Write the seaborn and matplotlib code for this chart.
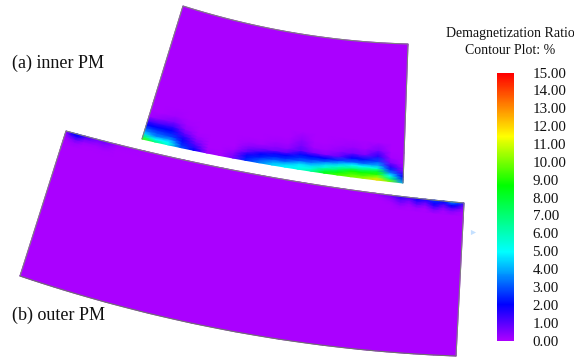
import numpy as np
import matplotlib
matplotlib.use("Agg")
import matplotlib.pyplot as plt
from matplotlib.colors import LinearSegmentedColormap
import seaborn as sns

# Scale
scale_ticks = [0, 1, 2, 3, 4, 5, 6, 7, 8, 9, 10, 11, 12, 13, 14, 15]
scale_stops = [0, 2, 3.5, 5, 8.7, 11.5, 15]
scale_colors = ["#aa00ff", "#0000ff", "#0082ff", "#00ffff", "#00ff00", "#ffff00", "#ff0000"]

# Inner PM: outline (pixels), then ratio table (rows = px above bottom edge)
inner_corners = dict(tl=(183, 6), tr=(408, 44), br=(403, 183), bl=(142, 139))
inner_sag = dict(top=8, bottom=4)
inner_stations = [0, .05, .1, .15, .2, .25, .3, .35, .4, .45, .5, .55, .6, .65, .7, .75, .8, .85, .9, .95, 1]
inner_depths = [0, 3, 6, 9, 12, 15, 19, 24, 30, 38]
inner_ratio = [
    [9.5, 7, 5.5, 3, 2, .2, 0, .6, 2.5, 3.5, 4.5, 5, 5.5, 6.5, 8.5, 9.5, 10, 10.5, 12, 10, 4],
    [7, 5, 5, 2.5, 1.5, .1, 0, .5, 2.2, 3, 4, 4.5, 5, 5.5, 7.5, 8.5, 9.5, 9.5, 10.5, 7, 3],
    [4.5, 3.5, 3.8, 2.2, 1, 0, 0, .3, 1.8, 2.3, 3, 3.2, 4.5, 4.5, 5.5, 7, 8.8, 8.8, 9, 5, 2],
    [3.5, 3, 2.8, 1.8, .6, 0, 0, .1, .9, 2, 2.3, 2.5, 3, 3.4, 4.5, 5.5, 6.5, 7, 8, 3.5, 1.5],
    [2.8, 2.5, 2.4, 1.3, .3, 0, 0, 0, .6, 1, 1.8, 2, 2.5, 2.6, 3, 4, 5, 5, 5.5, 2.5, .5],
    [2, 2, 2, .8, .1, 0, 0, 0, .3, .5, .6, .9, 2.1, 2, 2, 2.6, 3.2, 3.3, 4, 1.5, .2],
    [1.2, 1.2, 1.3, .3, 0, 0, 0, 0, .1, .1, .3, .3, .9, .5, .4, .8, 2, 2.2, 2.8, .5, 0],
    [.1, .3, .5, .1, 0, 0, 0, 0, 0, 0, .1, .1, .6, .1, .1, .3, .6, .5, 1.5, .1, 0],
    [0, 0, .1, 0, 0, 0, 0, 0, 0, 0, 0, 0, .3, 0, 0, .1, .2, .1, .5, 0, 0],
    [0, 0, 0, 0, 0, 0, 0, 0, 0, 0, 0, 0, 0, 0, 0, 0, 0, 0, 0, 0, 0],
]

# Outer PM: rows = px below top edge
outer_corners = dict(tl=(66, 131), tr=(464, 203), br=(456, 356), bl=(20, 276))
outer_sag = dict(top=9, bottom=16)
outer_stations = [0, .015, .03, .05, .08, .1, .13, .2, .3, .4, .5, .6, .7, .78, .8, .82, .844,
                  .865, .884, .905, .927, .95, .97, .985, 1]
outer_depths = [0, 2, 4, 7, 10, 14]
outer_ratio = [
    [.3, 1.8, 2.2, 1.2, .7, .7, .2, 0, 0, 0, 0, 0, 0, .1, .4, .7, 1.6, 1.2, 1.9, 1.6, 2.8, 2, 4, 3.2, 1.5],
    [.2, 1.5, 2, 1, .5, .6, .1, 0, 0, 0, 0, 0, 0, .05, .3, .5, 1.3, .9, 1.7, 1.3, 2.4, 1.7, 3, 2.5, 1],
    [.1, .9, 1.4, .6, .3, .4, .05, 0, 0, 0, 0, 0, 0, 0, .1, .3, .9, .5, 1.3, .8, 1.9, 1, 2, 1.6, .5],
    [0, .3, .6, .2, .1, .2, 0, 0, 0, 0, 0, 0, 0, 0, 0, .1, .5, .2, .7, .3, 1.2, .5, 1, .7, .2],
    [0, .1, .2, .05, 0, .05, 0, 0, 0, 0, 0, 0, 0, 0, 0, 0, .2, .05, .2, .05, .5, .1, .4, .2, 0],
    [0] * 25,
]

sns.set_theme(style="white")
plt.rcParams["font.family"] = ["Liberation Serif", "DejaVu Serif"]

W, H = 574, 358
fig = plt.figure(figsize=(W / 100, H / 100), dpi=100, facecolor="white")
ax = fig.add_axes([0, 0, 1, 1])
ax.set_xlim(0, W)
ax.set_ylim(H, 0)
ax.axis("off")

cmap = LinearSegmentedColormap.from_list(
    "demag", [(s / 15, c) for s, c in zip(scale_stops, scale_colors)], N=512
)


def bow(a, b, sag, s):
    """Quadratic curve from a to b that sags downwards (in the picture) by sag."""
    a, b = np.array(a, float), np.array(b, float)
    mid = (a + b) / 2
    d = b - a
    n = np.array([-d[1], d[0]]) / np.hypot(*d)
    ctrl = mid + 2 * sag * n
    s = np.asarray(s)[:, None]
    return (1 - s) ** 2 * a + 2 * s * (1 - s) * ctrl + s ** 2 * b


def draw_magnet(corners, sag, stations, depths, ratio, from_bottom, zorder, edge_bottom=True):
    top = bow(corners["tl"], corners["tr"], sag["top"], stations)
    bottom = bow(corners["bl"], corners["br"], sag["bottom"], stations)
    span = np.hypot(*(top - bottom).T)
    rows, vals = [], []
    ratio = np.array(ratio, float)
    for d, r in zip(depths, ratio):
        t = (d / span)[:, None]
        rows.append(bottom + (top - bottom) * t if from_bottom else top + (bottom - top) * t)
        vals.append(r)
    rows.append(top if from_bottom else bottom)
    vals.append(np.zeros_like(ratio[0]))
    grid = np.stack(rows)
    ax.pcolormesh(grid[..., 0], grid[..., 1], np.stack(vals), cmap=cmap, vmin=0, vmax=15,
                  shading="gouraud", zorder=zorder, rasterized=True)
    fine = np.linspace(0, 1, 80)
    top_f = bow(corners["tl"], corners["tr"], sag["top"], fine)
    bot_f = bow(corners["bl"], corners["br"], sag["bottom"], fine)
    line = np.vstack([bot_f[:1], top_f, bot_f[-1:]])
    ax.plot(line[:, 0], line[:, 1], color="#808080", lw=0.8, zorder=zorder + .1)
    if edge_bottom:
        ax.plot(bot_f[:, 0], bot_f[:, 1], color="#707070", lw=0.8, zorder=zorder + .1)


draw_magnet(inner_corners, inner_sag, inner_stations, inner_depths, inner_ratio, True, 2, edge_bottom=False)
draw_magnet(outer_corners, outer_sag, outer_stations, outer_depths, outer_ratio, False, 3)
ax.scatter([473], [232], marker=">", s=14, color="#c4e0ff", linewidths=0, zorder=3)

ax.text(12, 63.5, "(a) inner PM", fontsize=13, color="#111111", va="center", ha="left")
ax.text(12, 315, "(b) outer PM", fontsize=13, color="#111111", va="center", ha="left")
ax.text(510, 34, "Demagnetization Ratio", fontsize=10, color="#111111", va="center", ha="center")
ax.text(510, 50.5, "Contour Plot: %", fontsize=10, color="#111111", va="center", ha="center")

# Colour bar drawn as a one-column seaborn heatmap
cax = fig.add_axes([497 / W, 1 - 341 / H, 17 / W, 268 / H])
levels = np.linspace(15, 0, 270).reshape(-1, 1)
sns.heatmap(levels, ax=cax, cmap=cmap, vmin=0, vmax=15, cbar=False,
            xticklabels=False, yticklabels=False, rasterized=True)
cax.set_xlabel("")
cax.set_ylabel("")

for v in scale_ticks:
    y = 341 - (341 - 73) * v / 15
    ax.text(532.5, y + 1, f"{v:.2f}", fontsize=10.8, color="#111111", va="center", ha="left")

fig.savefig("out.png", dpi=100, facecolor="white")
